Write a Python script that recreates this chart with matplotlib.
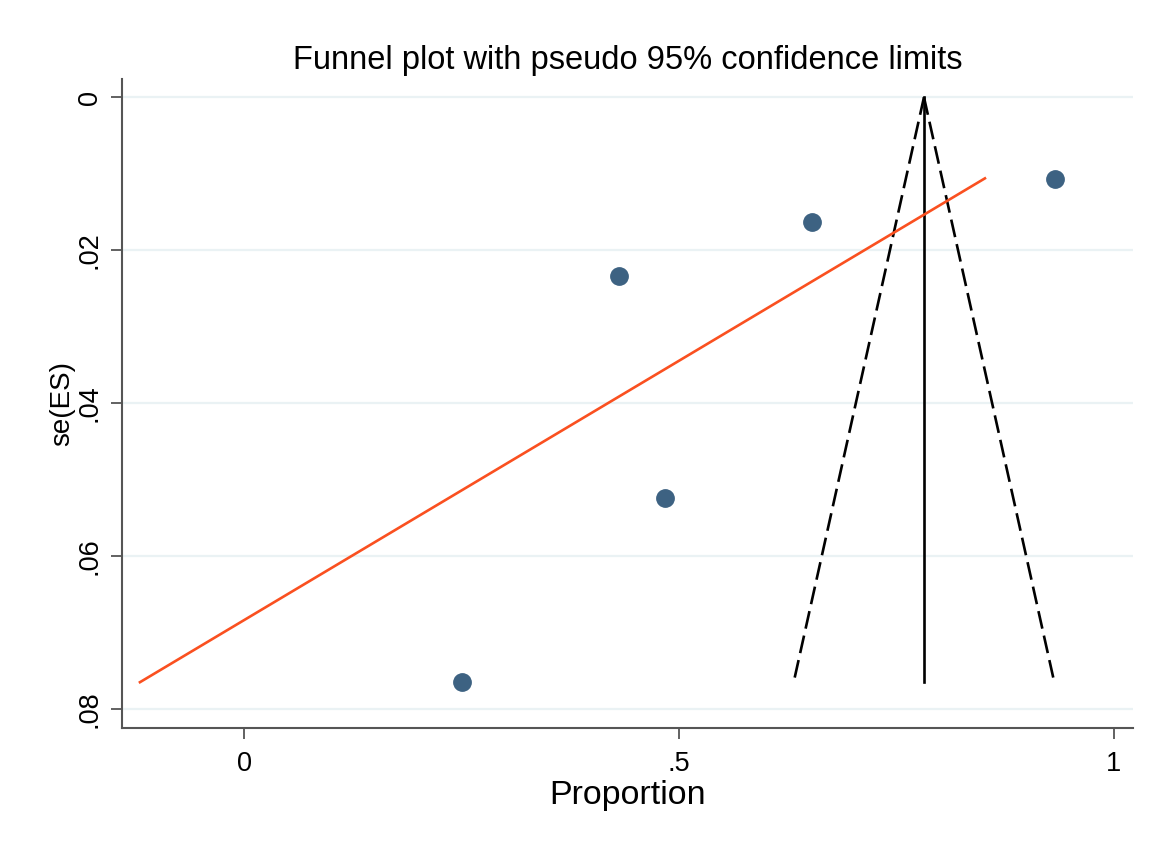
import numpy as np
import matplotlib
matplotlib.use("Agg")
import matplotlib.pyplot as plt
from matplotlib.ticker import FixedLocator

plt.rcParams['font.family'] = ['Liberation Sans', 'DejaVu Sans']

# study estimates (proportion) and their standard errors
proportion = [0.9321, 0.6527, 0.4307, 0.4836, 0.2501]
se_es = [0.01068, 0.0163, 0.02337, 0.05238, 0.07646]

# pooled estimate and pseudo 95% limits
pooled = 0.7815
z95 = 1.96

# fitted line: x value at the smallest and largest se
fit_se = [0.01060, 0.07646]
fit_x = [0.8516, -0.1202]

x_ticks = [0, 0.5, 1]
x_tick_labels = ['0', '.5', '1']
y_ticks = [0, 0.02, 0.04, 0.06, 0.08]
y_tick_labels = ['0', '.02', '.04', '.06', '.08']

fig = plt.figure(figsize=(11.56, 8.41), dpi=100)
ax = fig.add_axes([0.1055, 0.1347, 0.8746, 0.7714])

se_max = max(se_es)
# funnel limits, drawn from the apex down
ax.plot([pooled, pooled - z95 * se_max], [0, se_max], color='black', lw=1.9,
        dashes=(6.8, 2.7), solid_capstyle='butt')
ax.plot([pooled, pooled + z95 * se_max], [0, se_max], color='black', lw=1.9,
        dashes=(6.8, 2.7), solid_capstyle='butt')
ax.plot([pooled, pooled], [0, se_max], color='black', lw=1.9)

ax.plot(fit_x, fit_se, color='#fa5020', lw=1.9, zorder=3)
ax.plot(proportion, se_es, 'o', color='#3d6282', markersize=12.5, zorder=4)

ax.set_xlim(-0.1409, 1.0219)
ax.set_ylim(0.08241, -0.00239)

ax.xaxis.set_major_locator(FixedLocator(x_ticks))
ax.set_xticklabels(x_tick_labels)
ax.yaxis.set_major_locator(FixedLocator(y_ticks))
ax.set_yticklabels(y_tick_labels, rotation=90, va='center')

ax.grid(axis='y', color='#eaf2f4', lw=1.6, zorder=0)
ax.set_axisbelow(True)

for side in ['top', 'right']:
    ax.spines[side].set_visible(False)
for side in ['left', 'bottom']:
    ax.spines[side].set_color('#555555')
    ax.spines[side].set_linewidth(1.5)

ax.tick_params(axis='both', direction='out', length=8, width=1.3,
               color='#555555', labelsize=19.5, labelcolor='black')
ax.tick_params(axis='x', pad=9)
ax.tick_params(axis='y', pad=6)

ax.set_xlabel('Proportion', fontsize=24.5, labelpad=2)
ax.set_ylabel('se(ES)', fontsize=20, labelpad=1)
ax.set_title('Funnel plot with pseudo 95% confidence limits', fontsize=23.5, pad=7)

fig.savefig('out.png', dpi=100, facecolor='white')
